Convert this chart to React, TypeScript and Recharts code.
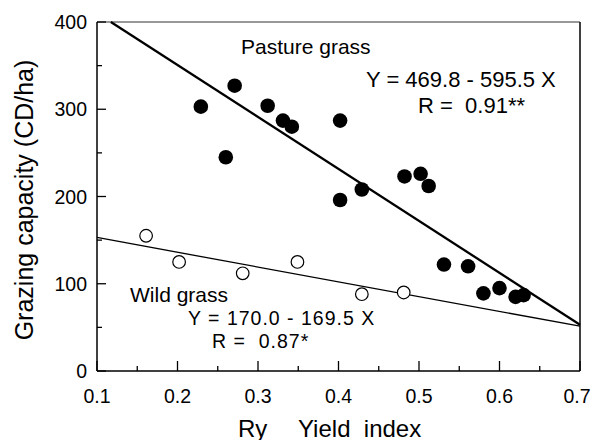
import { ScatterChart, Scatter, XAxis, YAxis, ReferenceLine } from 'recharts'

// Ry (yield index) vs grazing capacity (CD/ha)
const pastureRy = [0.229, 0.26, 0.271, 0.312, 0.331, 0.342, 0.402, 0.402, 0.429, 0.482, 0.502, 0.512, 0.531, 0.561, 0.58, 0.6, 0.62, 0.63]
const pastureCap = [303, 245, 327, 304, 287, 280, 287, 196, 208, 223, 226, 212, 122, 120, 89, 95, 85, 87]

const wildRy = [0.161, 0.202, 0.281, 0.349, 0.429, 0.481]
const wildCap = [155, 125, 112, 125, 88, 90]

// regression fits: Y = a + b X
const pastureFit = [469.8, -595.5]
const wildFit = [170.0, -169.5]

const xTicks = [0.1, 0.15, 0.2, 0.25, 0.3, 0.35, 0.4, 0.45, 0.5, 0.55, 0.6, 0.65, 0.7]
const yTicks = [0, 50, 100, 150, 200, 250, 300, 350, 400]
const X_DOMAIN = [0.1, 0.7]
const Y_DOMAIN = [0, 400]

const CHART_W = 592
const FONT = '"Liberation Sans", Arial, Helvetica, sans-serif'

const pastureData = pastureRy.map((x, i) => ({ x, y: pastureCap[i] }))
const wildData = wildRy.map((x, i) => ({ x, y: wildCap[i] }))

// clip a fitted line to the plotting window
function fitSegment([a, b]: number[]) {
  const [x0, x1] = X_DOMAIN
  const yMax = Y_DOMAIN[1]
  let xs = x0
  if (a + b * xs > yMax) xs = (yMax - a) / b
  return [
    { x: xs, y: a + b * xs },
    { x: x1, y: a + b * x1 },
  ]
}

const XTick = (props: any) => {
  const { x, y, payload } = props
  const v: number = payload.value
  const major = Math.round(v * 100) % 10 === 0
  // keep the last label inside the svg
  const lx = Math.min(x, CHART_W - 15)
  return (
    <g>
      <line x1={x} x2={x} y1={y} y2={y - (major ? 10 : 5)} stroke="#000" strokeWidth={1.3} />
      {major && (
        <text x={lx} y={y + 32} textAnchor="middle" fontSize={19.5} fontFamily={FONT} fill="#000">
          {v.toFixed(1)}
        </text>
      )}
    </g>
  )
}

const YTick = (props: any) => {
  const { x, y, payload } = props
  const v: number = payload.value
  const major = v % 100 === 0
  return (
    <g>
      <line x1={x} x2={x + (major ? 9 : 5)} y1={y} y2={y} stroke="#000" strokeWidth={1.3} />
      {major && (
        <text x={x - 10} y={y + 7} textAnchor="end" fontSize={19.5} fontFamily={FONT} fill="#000">
          {v}
        </text>
      )}
    </g>
  )
}

const FilledDot = (p: any) => <circle cx={p.cx} cy={p.cy} r={7.3} fill="#000" />
const OpenDot = (p: any) => <circle cx={p.cx} cy={p.cy} r={6.3} fill="#fff" stroke="#000" strokeWidth={1.2} />

const txt = { fontFamily: FONT, fill: '#000' }

export default function App() {
  return (
    <div style={{ position: 'absolute', left: 0, top: 0, background: '#fff' }}>
      <ScatterChart width={CHART_W} height={440} margin={{ top: 22, right: 12, bottom: 0, left: 0 }}>
        <XAxis
          type="number"
          dataKey="x"
          domain={X_DOMAIN}
          ticks={xTicks}
          interval={0}
          height={69}
          tickSize={0}
          tickMargin={0}
          tickLine={false}
          axisLine={{ stroke: '#000', strokeWidth: 1.5 }}
          tick={<XTick />}
        />
        <YAxis
          type="number"
          dataKey="y"
          domain={Y_DOMAIN}
          ticks={yTicks}
          interval={0}
          width={97}
          tickSize={0}
          tickMargin={0}
          tickLine={false}
          axisLine={{ stroke: '#000', strokeWidth: 1.5 }}
          tick={<YTick />}
        />
        <ReferenceLine y={400} stroke="#333" strokeWidth={1} />
        <ReferenceLine x={0.7} stroke="#000" strokeWidth={1.5} />
        <ReferenceLine segment={fitSegment(pastureFit)} stroke="#000" strokeWidth={2.3} />
        <ReferenceLine segment={fitSegment(wildFit)} stroke="#000" strokeWidth={1.3} />
        <Scatter data={wildData} shape={OpenDot} isAnimationActive={false} />
        <Scatter data={pastureData} shape={FilledDot} isAnimationActive={false} />

        <text x={241} y={53.5} fontSize={21} {...txt}>Pasture grass</text>
        <text x={366} y={87} fontSize={22} {...txt}>Y = 469.8 - 595.5 X</text>
        <text x={418} y={113} fontSize={22} {...txt} style={{ whiteSpace: 'pre' }}>R =  0.91**</text>
        <text x={130} y={301.5} fontSize={21} {...txt}>Wild grass</text>
        <text x={188} y={325} fontSize={19.5} letterSpacing={1} {...txt}>Y = 170.0 - 169.5 X</text>
        <text x={212} y={347.5} fontSize={19.5} letterSpacing={1} {...txt} style={{ whiteSpace: 'pre' }}>R =  0.87*</text>

        <text transform="translate(33,200) rotate(-90)" textAnchor="middle" fontSize={25} {...txt}>
          Grazing capacity (CD/ha)
        </text>
        <text x={238} y={436.5} fontSize={24} {...txt}>Ry</text>
        <text x={298} y={436.5} fontSize={24} {...txt} style={{ whiteSpace: 'pre' }}>Yield  index</text>
      </ScatterChart>
    </div>
  )
}
